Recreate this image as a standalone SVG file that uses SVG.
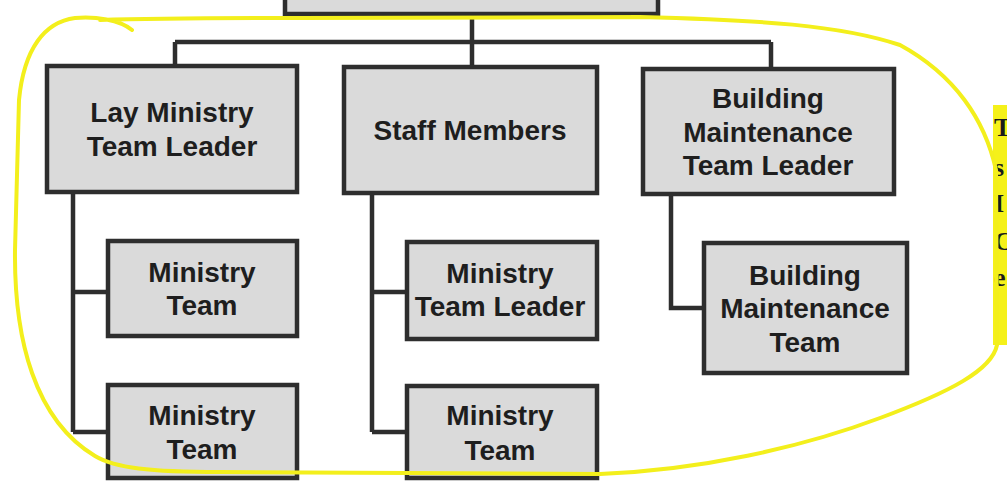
<svg xmlns="http://www.w3.org/2000/svg" width="1007" height="484" viewBox="0 0 1007 484">
<style>
.box{fill:#dadada;stroke:#2e2e2e;stroke-width:4.5}
.lbl{font-family:"Liberation Sans Narrow","Liberation Sans",Arial,sans-serif;font-weight:bold;font-size:28px;fill:#1e1e1e;text-anchor:middle}
.conn{fill:none;stroke:#2e2e2e;stroke-width:4.5;stroke-linejoin:miter}
.hl{fill:none;stroke:#f3ef1c;stroke-width:4;stroke-linecap:round;stroke-linejoin:round}
.note{font-family:"Liberation Serif","Times New Roman",serif;font-weight:bold;font-size:26px;fill:#1a1a1a}
</style>
<rect x="0" y="0" width="1007" height="484" fill="#ffffff"/>
<g id="connectors">
<path class="conn" d="M472,14 V42 M175,42 H771 M175,42 V68 M472,42 V68 M771,42 V70"/>
<path class="conn" d="M73,192 V432 M73,292 H110 M73,432 H110"/>
<path class="conn" d="M372,193 V432 M372,292 H409 M372,432 H409"/>
<path class="conn" d="M671,194 V308 H706"/>
</g>
<g id="top"><rect class="box" x="285" y="-10" width="373" height="24"/></g>
<g id="lay-leader"><rect class="box" x="47" y="66" width="250" height="126"/>
<text class="lbl" x="172" y="122">Lay Ministry</text><text class="lbl" x="172" y="156">Team Leader</text></g>
<g id="staff"><rect class="box" x="344" y="67" width="253" height="126"/>
<text class="lbl" x="470" y="140">Staff Members</text></g>
<g id="bm-leader"><rect class="box" x="643" y="69" width="251" height="125"/>
<text class="lbl" x="768" y="108">Building</text><text class="lbl" x="768" y="142">Maintenance</text><text class="lbl" x="768" y="175">Team Leader</text></g>
<g id="ministry-team-1"><rect class="box" x="108" y="241" width="189" height="95"/>
<text class="lbl" x="202" y="282">Ministry</text><text class="lbl" x="202" y="315">Team</text></g>
<g id="ministry-team-2"><rect class="box" x="108" y="385" width="189" height="93"/>
<text class="lbl" x="202" y="425">Ministry</text><text class="lbl" x="202" y="459">Team</text></g>
<g id="ministry-team-leader"><rect class="box" x="407" y="242" width="190" height="97"/>
<text class="lbl" x="500" y="283">Ministry</text><text class="lbl" x="500" y="316">Team Leader</text></g>
<g id="ministry-team-3"><rect class="box" x="407" y="386" width="190" height="92"/>
<text class="lbl" x="500" y="425">Ministry</text><text class="lbl" x="500" y="460">Team</text></g>
<g id="bm-team"><rect class="box" x="704" y="243" width="203" height="130"/>
<text class="lbl" x="805" y="285">Building</text><text class="lbl" x="805" y="318">Maintenance</text><text class="lbl" x="805" y="352">Team</text></g>
<g id="note">
<rect x="993" y="105" width="16" height="240" fill="#f5f11a"/>
<text class="note" x="994" y="136">T</text>
<text class="note" x="994" y="176">s</text>
<text class="note" x="994" y="212">I</text>
<text class="note" x="994" y="250">C</text>
<text class="note" x="994" y="286">e</text>
</g>
<path class="hl" d="M132,30 C120,20 95,16 75,18 C45,22 24,48 19,100 L15,250 C14,340 35,420 95,456 C115,468 150,472 220,472 L600,474 C700,470 800,448 880,418 C950,392 992,370 997,345 L996,170 C985,120 955,75 900,45 C840,25 760,20 640,17 L300,18 C220,18 160,18 100,20"/>
</svg>
